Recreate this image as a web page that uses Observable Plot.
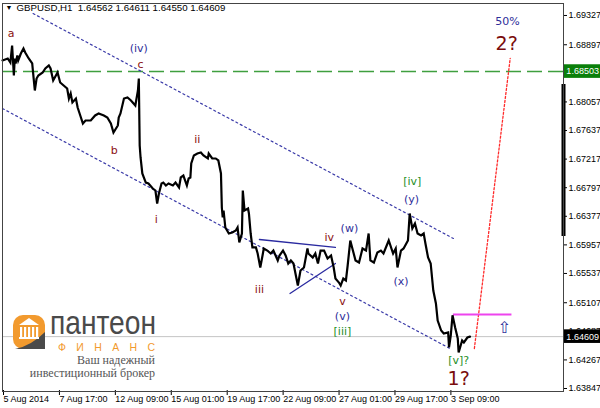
<!DOCTYPE html>
<html><head><meta charset="utf-8">
<script src="https://cdn.jsdelivr.net/npm/d3@7"></script>
<script src="https://cdn.jsdelivr.net/npm/@observablehq/plot@0.6"></script>
<style>body{margin:0;background:#fff}#chart{position:relative;width:600px;height:408px}#logo{position:absolute;left:0;top:0;pointer-events:none}</style>
</head><body><div id="chart"></div>
<script>
// ---- data (H1 bar number from 5 Aug 2014, price) ----
const barIndex = [
  0,6,9,11,13,14,15,17,18,21,
  24,26,30,34,35,37,39,41,46,49,
  53,55,58,63,66,70,74,76,78,80,
  84,86,89,92,95,101,106,110,116,120,
  124,127,132,133,135,139,143,147,150,152,
  155,156,157,158,160,164,167,172,175,177,
  179,182,184,187,190,195,198,202,204,207,
  211,213,215,216,219,223,227,230,235,236,
  240,244,247,250,251,252,253,255,259,263,
  267,269,271,274,275,277,281,282,284,286,
  290,292,295,298,299,303,307,310,315,317,
  321,324,327,330,333,338,341,345,349,350,
  355,358,361,364,368,372,376,378,379,381,
  385,387,390,393,395,398,401,404,408,412,
  416,419,421,425,429,433,436,442,447,450,
  452,456,459,464,466,469,472,475,479,482,
  484,487,490,493,496,498,502,505,510,511,
  513,515,518,521,522,526,528,532,535];
const closePrice = [
  1.68666,1.68695,1.68636,1.68886,1.68445,1.68695,1.68622,1.68739,1.68666,1.68768,
  1.68842,1.68783,1.68695,1.68622,1.68489,1.68225,1.68401,1.68445,1.68489,1.68548,
  1.68592,1.68548,1.68372,1.68489,1.68343,1.68298,1.68254,1.68107,1.68181,1.68049,
  1.68107,1.67975,1.67858,1.67740,1.67784,1.67784,1.67858,1.67887,1.67858,1.67828,
  1.67740,1.67608,1.67711,1.67828,1.67887,1.68107,1.68122,1.68078,1.68034,1.68005,
  1.68225,1.68401,1.67417,1.67241,1.67006,1.66873,1.66859,1.66785,1.66756,1.66565,
  1.66712,1.66859,1.66873,1.66829,1.66859,1.66829,1.66873,1.66800,1.66947,1.66976,
  1.66829,1.66932,1.66947,1.67153,1.67270,1.67299,1.67314,1.67270,1.67226,1.67299,
  1.67226,1.67226,1.67197,1.67006,1.66506,1.66360,1.66462,1.66212,1.66124,1.66139,
  1.66168,1.66212,1.65992,1.66124,1.66756,1.66462,1.66491,1.66418,1.66124,1.65919,
  1.65919,1.65830,1.65625,1.65830,1.65904,1.65874,1.65830,1.65874,1.65728,1.65801,
  1.65874,1.65801,1.65684,1.65728,1.65684,1.65360,1.65581,1.65625,1.65904,1.65830,
  1.65772,1.65830,1.65684,1.65874,1.65874,1.65757,1.65801,1.65684,1.65625,1.65463,
  1.65404,1.65360,1.65463,1.65434,1.65654,1.66021,1.65874,1.65728,1.65698,1.65904,
  1.65874,1.66124,1.65728,1.65698,1.65845,1.65874,1.65830,1.66021,1.65830,1.65904,
  1.65625,1.65874,1.65904,1.66021,1.66418,1.66198,1.66271,1.66124,1.66095,1.66124,
  1.65978,1.65772,1.65684,1.65287,1.65096,1.64846,1.64699,1.64655,1.64670,1.64450,
  1.64626,1.64923,1.64743,1.64582,1.64376,1.64552,1.64523,1.64596,1.64609];

const xTickBars = [0,64,128,192,256,320,384,448,512];
const xTickLabels = ["5 Aug 2014","7 Aug 17:00","12 Aug 09:00","15 Aug 01:00","19 Aug 17:00","22 Aug 09:00","27 Aug 01:00","29 Aug 17:00","3 Sep 09:00"];
const yTicks = [1.69327,1.68897,1.68057,1.67637,1.67217,1.66797,1.66377,1.65957,1.65537,1.65107,1.64687,1.64267,1.63847];

const resistanceLevel = 1.68503;
const lastPrice = 1.64609;
const headerText = "GBPUSD,H1  1.64562 1.64611 1.64550 1.64609";

// channel and triangle lines: [bar1, price1, bar2, price2]
const channelUpper = [35,1.69356,516,1.66051];
const channelLower = [0,1.67960,512,1.64435];
const triUpper = [294,1.66036,381,1.65919];
const triLower = [329,1.65243,381,1.65684];
const projection = [540,1.64435,581,1.68695];
const targetLevel = [516,583,1.64934];
const scrollBar = [1.68313,1.66080];

const labelText  = ["a","(iv)","c","b","i","ii","iii","iv","(w)","v","(v)","[iii]","(x)","[iv]","(y)","[v]?","50%"];
const labelBar   = [10,156,158,128,176,223,294,374,397,389,389,389,456,469,468,522,578];
const labelPrice = [1.69062,1.68842,1.68607,1.67343,1.66330,1.67505,1.65302,1.66065,1.66198,1.65125,1.64905,1.64685,1.65419,1.66888,1.66624,1.64259,1.69238];
const labelKind  = ["red","blue","red","red","red","red","red","red","blue","red","blue","green","blue","green","blue","green","blue"];
const bigText = ["1?","2?"];
const bigBar = [522,577];
const bigPrice = [1.63994,1.68915];
const arrowBar = 574, arrowPrice = 1.64743;

// ---- build ----
const series = barIndex.map((b,i)=>({b, p: closePrice[i]}));
const seg = a => [{b:a[0],p:a[1]},{b:a[2],p:a[3]}];
const labels = labelText.map((t,i)=>({t,b:labelBar[i],p:labelPrice[i],k:labelKind[i]}));
const kindColor = {red:"#8b1010", blue:"#2e2e9a", green:"#1f8f1f"};
const tickMap = new Map(xTickBars.map((b,i)=>[b,xTickLabels[i]]));
const F = "Liberation Sans, Arial, sans-serif";
const LF = "DejaVu Sans, sans-serif";
const boxH = 0.00100; // half height of a price box
const boxes = [{p: resistanceLevel, f:"#0a7f0a"}, {p: lastPrice, f:"#000"}];

const labelMarks = Object.keys(kindColor).map(k =>
  Plot.text(labels.filter(d=>d.k===k), {x:"b", y:"p", text:"t", fill: kindColor[k], fontSize: 11, fontFamily: LF}));

const plot = Plot.plot({
  width: 600, height: 408,
  marginLeft: 2, marginRight: 37, marginTop: 3, marginBottom: 17,
  x: {domain: [0, 642], label: null},
  y: {domain: [1.63803, 1.69503], label: null},
  style: {fontFamily: F, fontSize: "9px", background: "#fff", color: "#000"},
  marks: [
    Plot.ruleY([lastPrice], {stroke: "#c4c4c4", strokeWidth: 1}),
    Plot.ruleY([resistanceLevel], {stroke: "#3f9f3f", strokeWidth: 1.6, strokeDasharray: "15,6"}),
    Plot.line(seg(channelUpper), {x:"b", y:"p", stroke:"#3a3aa8", strokeWidth:1.2, strokeDasharray:"2,3"}),
    Plot.line(seg(channelLower), {x:"b", y:"p", stroke:"#3a3aa8", strokeWidth:1.2, strokeDasharray:"2,3"}),
    Plot.line(seg(triUpper), {x:"b", y:"p", stroke:"#2a2aa0", strokeWidth:1.3}),
    Plot.line(seg(triLower), {x:"b", y:"p", stroke:"#2a2aa0", strokeWidth:1.3}),
    Plot.line(seg(projection), {x:"b", y:"p", stroke:"#ff2a2a", strokeWidth:1.3, strokeDasharray:"2,2"}),
    Plot.ruleY([targetLevel[2]], {x1: targetLevel[0], x2: targetLevel[1], stroke:"#ee44ee", strokeWidth:2}),
    Plot.line(series, {x:"b", y:"p", stroke:"#000", strokeWidth:2.2, strokeLinejoin:"miter", strokeMiterlimit: 4}),
    ...labelMarks,
    Plot.text(bigText, {x:(d,i)=>bigBar[i], y:(d,i)=>bigPrice[i], text:d=>d, fill:"#7a0c0c", fontSize: 19, fontFamily: LF}),
    Plot.text(["⇧"], {x:[arrowBar], y:[arrowPrice], text:d=>d, fill:"#2e2e9a", fontSize: 16, fontFamily: LF}),
    Plot.text([headerText], {frameAnchor:"top-left", dx: 14, dy: 1, lineAnchor:"top", textAnchor:"start", fontSize: 9.7, fill:"#000"}),
    Plot.text(["▼"], {frameAnchor:"top-left", dx: 3, dy: 2, lineAnchor:"top", textAnchor:"start", fontSize: 7, fill:"#000"}),
    Plot.ruleX([642], {y1: scrollBar[0], y2: scrollBar[1], stroke:"#000", strokeWidth: 4}),
    Plot.axisY({anchor:"right", ticks: yTicks, tickFormat: d=>d.toFixed(5), tickSize: 3, tickPadding: 2, fontSize: 9, label: null}),
    Plot.rect(boxes, {x1: 643, x2: 690, y1: d=>d.p - boxH, y2: d=>d.p + boxH, fill: d=>d.f}),
    Plot.text(boxes, {x: 643, y: "p", text: d=>d.p.toFixed(5), textAnchor:"start", dx: 2, fill:"#fff", fontSize: 9}),
    Plot.axisX({ticks: xTickBars, tickFormat: d=>tickMap.get(d), tickSize: 5, tickPadding: 0, textAnchor:"start", dx: 1, dy: -1, fontSize: 9, label: null}),
    Plot.frame({stroke:"#444", strokeWidth: 1})
  ],
  color: {type: "identity"}
});
const chart = document.getElementById("chart");
chart.appendChild(plot);

// logo overlay (decoration)
const logo = document.createElement("div");
logo.id = "logo";
logo.innerHTML = `<svg width="600" height="408" xmlns="http://www.w3.org/2000/svg">
<rect x="13" y="315" width="32" height="34" rx="10" fill="#f29a2e"/>
<path d="M15,349 Q31,346 45,332 L45,349 Z" fill="#4a4a4a"/>
<path d="M19,325 L29,318 L39,325 Z" fill="#fff"/>
<rect x="20" y="327" width="2.2" height="10" fill="#fff"/><rect x="24" y="327" width="2.2" height="10" fill="#fff"/>
<rect x="28" y="327" width="2.2" height="10" fill="#fff"/><rect x="32" y="327" width="2.2" height="10" fill="#fff"/>
<rect x="36" y="327" width="2.2" height="10" fill="#fff"/><rect x="19" y="337" width="20" height="2" fill="#fff"/>
<text x="50" y="334" text-anchor="start" font-size="34" font-family="Liberation Sans, sans-serif" fill="#4a4a4a" textLength="106" lengthAdjust="spacingAndGlyphs">пантеон</text>
<text x="58" y="351" text-anchor="start" font-size="10.5" font-family="Liberation Sans, sans-serif" fill="#f29a2e" textLength="97" lengthAdjust="spacing">ФИНАНС</text>
<text x="155" y="364" text-anchor="end" font-size="12" font-family="Liberation Serif, serif" fill="#555">Ваш надежный</text>
<text x="155" y="377" text-anchor="end" font-size="12" font-family="Liberation Serif, serif" fill="#555">инвестиционный брокер</text>
</svg>`;
chart.appendChild(logo);
</script>
</body></html>
